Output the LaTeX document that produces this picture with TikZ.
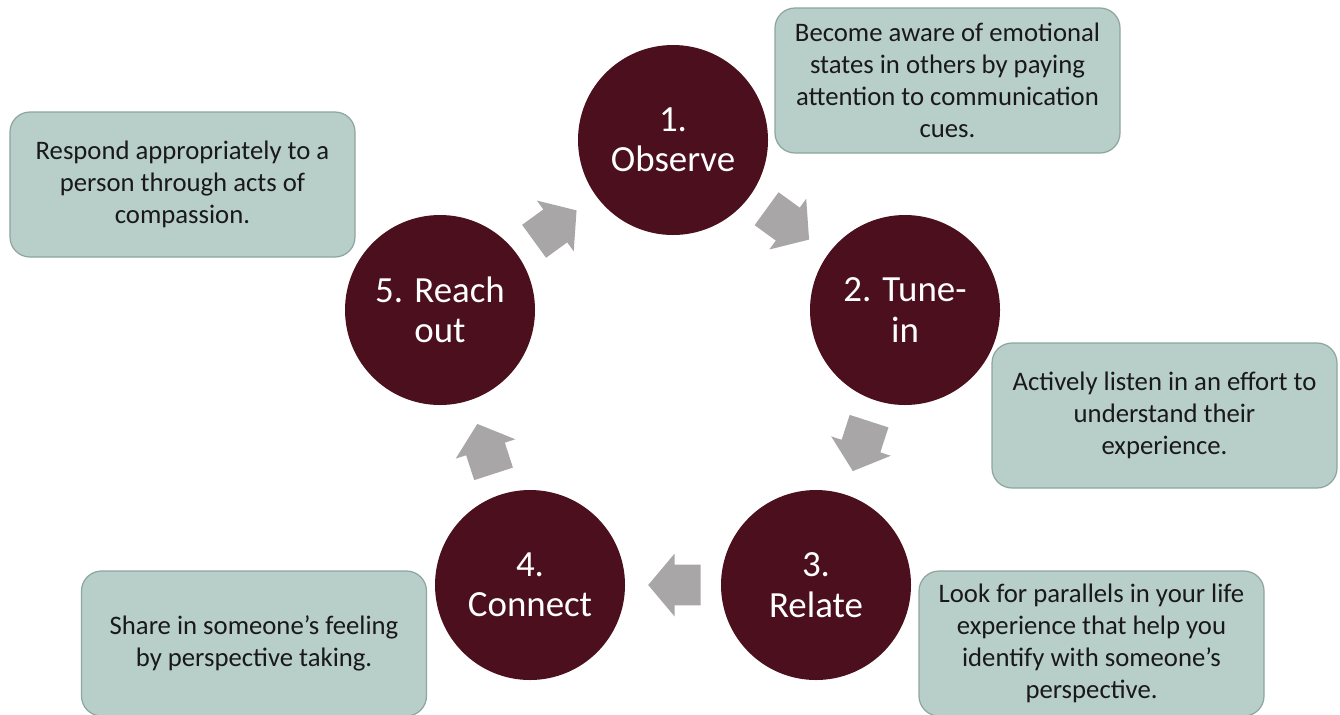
\documentclass[tikz,border=0pt]{standalone}
\usepackage{fontspec}
\setmainfont{Carlito}
\usepackage{tikz}
\usetikzlibrary{shapes.arrows, calc}

\definecolor{maroon}{HTML}{4B0F1E}
\definecolor{notefill}{HTML}{B8CEC8}
\definecolor{noteline}{HTML}{8EA6A0}
\definecolor{arrowgray}{HTML}{A8A6A6}

\begin{document}
\begin{tikzpicture}[
    circ/.style={circle, fill=maroon, minimum size=3.8cm, text=white,
        font=\fontsize{21}{23}\selectfont, align=center, inner sep=0pt},
    note/.style={rectangle, rounded corners=0.4cm, fill=notefill, draw=noteline,
        line width=0.7pt, minimum width=6.9cm, minimum height=2.9cm,
        font=\fontsize{15.2}{18.2}\selectfont, align=center, text=black!90},
    blockarrow/.style={single arrow, fill=arrowgray, inner sep=0pt,
        minimum height=1.05cm, minimum width=1.25cm, text height=0.8cm,
        single arrow head extend=0.22cm, single arrow tip angle=100}
]
    \useasboundingbox (0,0) rectangle (26.8,-14.28);

    % the five steps
    \node[circ] (O) at (13.46,-2.8) {1.\\Observe};
    \node[circ] (T) at (18.1,-6.2) {2. Tune-\\in};
    \node[circ] (R) at (16.32,-11.7) {3.\\Relate};
    \node[circ] (C) at (10.6,-11.7) {4.\\Connect};
    \node[circ] (RO) at (8.8,-6.2) {5. Reach\\out};

    % the notes
    \node[note] (nO) at (18.95,-1.61) {Become aware of emotional\\states in others by paying\\attention to communication\\cues.};
    \node[note] (nT) at (23.29,-8.31) {Actively listen in an effort to\\understand their\\experience.};
    \node[note] (nR) at (21.83,-12.87) {Look for parallels in your life\\experience that help you\\identify with someone's\\perspective.};
    \node[note] (nC) at (5.08,-12.87) {Share in someone's feeling\\by perspective taking.};
    \node[note] (nRO) at (3.65,-3.69) {Respond appropriately to a\\person through acts of\\compassion.};

    % arrows between the steps (shifted back so they sit midway)
    \node[blockarrow, rotate=-36, xshift=-0.2cm] (a1) at ($(O)!0.5!(T)$) {};
    \node[blockarrow, rotate=-108, xshift=-0.2cm] (a2) at ($(T)!0.5!(R)$) {};
    \node[blockarrow, rotate=180, xshift=-0.2cm] (a3) at ($(R)!0.5!(C)$) {};
    \node[blockarrow, rotate=108, xshift=-0.2cm] (a4) at ($(C)!0.5!(RO)$) {};
    \node[blockarrow, rotate=36, xshift=-0.2cm] (a5) at ($(RO)!0.5!(O)$) {};
\end{tikzpicture}
\end{document}
